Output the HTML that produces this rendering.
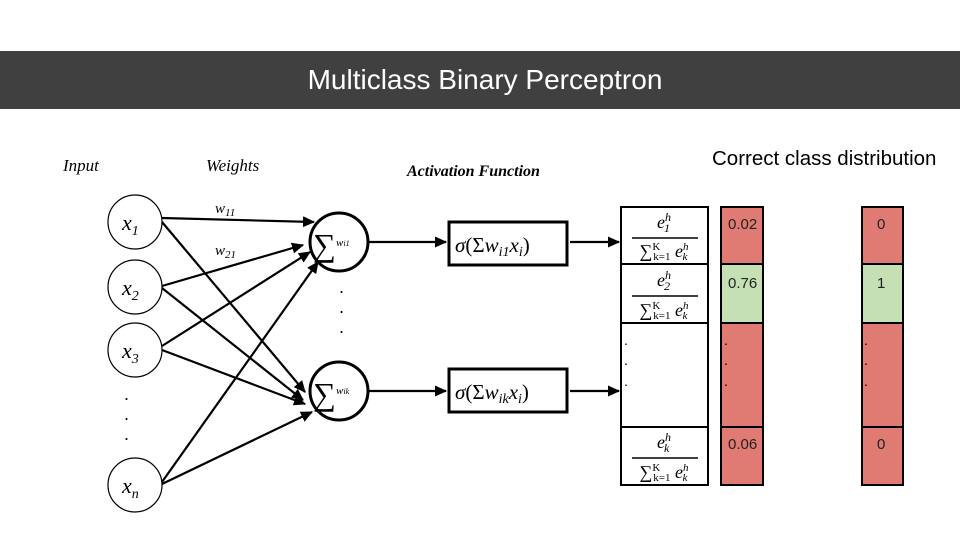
<!DOCTYPE html>
<html><head><meta charset="utf-8"><style>
body{margin:0;width:960px;height:540px;background:#fff;overflow:hidden;position:relative;font-family:"Liberation Sans",sans-serif}
.bar{position:absolute;left:0;top:51px;width:960px;height:58px;background:#404040;color:#fff;font-size:28px;line-height:58px;text-align:center;padding-left:10px;box-sizing:border-box}
svg{position:absolute;left:0;top:0}
.s{font-family:"Liberation Serif",serif;font-style:italic}
</style></head><body>
<div class="bar">Multiclass Binary Perceptron</div>
<svg width="960" height="540">
<defs><marker id="a" markerWidth="6" markerHeight="6" refX="5" refY="3" orient="auto"><path d="M0,0.5 L5.5,3 L0,5.5z" fill="#000"/></marker></defs>
<text x="63" y="171" class="s" font-size="17">Input</text>
<text x="206" y="171" class="s" font-size="17">Weights</text>
<text x="407" y="176" class="s" font-size="16" font-weight="bold">Activation Function</text>
<text x="712" y="165" font-size="20.5">Correct class distribution</text>
<g fill="#fff" stroke="#000" stroke-width="1.2">
<circle cx="135" cy="222" r="27"/><circle cx="135" cy="287" r="27"/><circle cx="135" cy="350" r="27"/><circle cx="135" cy="485" r="27"/>
</g>
<g class="s" font-size="22"><text x="122" y="230">x<tspan font-size="14" dy="5">1</tspan></text>
<text x="122" y="295">x<tspan font-size="14" dy="5">2</tspan></text>
<text x="122" y="358">x<tspan font-size="14" dy="5">3</tspan></text>
<text x="122" y="493">x<tspan font-size="14" dy="5">n</tspan></text></g>
<g font-size="18"><text x="124" y="400">.</text><text x="124" y="420">.</text><text x="124" y="440">.</text>
<text x="339" y="293">.</text><text x="339" y="313">.</text><text x="339" y="333">.</text></g>
<g stroke="#000" stroke-width="2.2" marker-end="url(#a)">
<line x1="162" y1="218" x2="314" y2="222"/>
<line x1="162" y1="222" x2="305" y2="392"/>
<line x1="162" y1="286" x2="303" y2="245"/>
<line x1="162" y1="288" x2="303" y2="400"/>
<line x1="162" y1="346" x2="310" y2="252"/>
<line x1="162" y1="350" x2="305" y2="404"/>
<line x1="162" y1="482" x2="318" y2="262"/>
<line x1="162" y1="484" x2="312" y2="412"/>
<line x1="369" y1="242" x2="446" y2="242"/>
<line x1="369" y1="391" x2="446" y2="391"/>
<line x1="570" y1="242" x2="619" y2="242"/>
<line x1="570" y1="391" x2="619" y2="391"/>
</g>
<text x="215" y="213" class="s" font-size="15">w<tspan font-size="11" dy="3">11</tspan></text>
<text x="215" y="255" class="s" font-size="15">w<tspan font-size="11" dy="3">21</tspan></text>
<g fill="#fff" stroke="#000" stroke-width="3"><circle cx="339" cy="242" r="29"/><circle cx="339" cy="391" r="29"/>
<rect x="449" y="222" width="118" height="43"/><rect x="449" y="369" width="118" height="43"/></g>
<g font-family="Liberation Serif,serif"><text x="313" y="256" font-size="32">∑</text><text x="313" y="405" font-size="32">∑</text>
<text x="336" y="246" class="s" font-size="11">w<tspan font-size="8">i1</tspan></text>
<text x="336" y="394" class="s" font-size="11">w<tspan font-size="8">ik</tspan></text>
<text x="455" y="252" font-size="21"><tspan class="s">σ</tspan>(Σ<tspan class="s">w<tspan font-size="14" dy="4">i1</tspan><tspan dy="-4">x</tspan><tspan font-size="14" dy="4">i</tspan></tspan><tspan dy="-4">)</tspan></text>
<text x="455" y="399" font-size="21"><tspan class="s">σ</tspan>(Σ<tspan class="s">w<tspan font-size="14" dy="4">ik</tspan><tspan dy="-4">x</tspan><tspan font-size="14" dy="4">i</tspan></tspan><tspan dy="-4">)</tspan></text></g>
<g stroke="#000" stroke-width="2"><rect x="621" y="207" width="87" height="278" fill="#fff"/>
<line x1="621" y1="264" x2="708" y2="264"/><line x1="621" y1="323" x2="708" y2="323"/><line x1="621" y1="427" x2="708" y2="427"/>
<rect x="721" y="207" width="42" height="278" fill="#e07b73"/><rect x="721" y="264" width="42" height="59" fill="#c5e0b4"/>
<line x1="721" y1="323" x2="763" y2="323"/><line x1="721" y1="427" x2="763" y2="427"/>
<rect x="862" y="207" width="41" height="278" fill="#e07b73"/><rect x="862" y="264" width="41" height="59" fill="#c5e0b4"/>
<line x1="862" y1="323" x2="903" y2="323"/><line x1="862" y1="427" x2="903" y2="427"/></g>
<g font-family="Liberation Serif,serif" text-anchor="middle">
<text x="664" y="228" font-size="18" class="s">e<tspan font-size="12" dy="-7">h</tspan><tspan font-size="12" dx="-7" dy="11">1</tspan></text>
<line x1="632" y1="238" x2="698" y2="238" stroke="#000" stroke-width="1.5"/>
<text x="664" y="257" font-size="18">∑<tspan font-size="11" dy="-7">K</tspan><tspan font-size="11" dx="-7" dy="10">k=1</tspan><tspan class="s" dy="-3"> e</tspan><tspan font-size="11" class="s" dy="-7">h</tspan><tspan font-size="11" class="s" dx="-6" dy="10">k</tspan></text>
<text x="664" y="286" font-size="18" class="s">e<tspan font-size="12" dy="-7">h</tspan><tspan font-size="12" dx="-7" dy="11">2</tspan></text>
<line x1="632" y1="296" x2="698" y2="296" stroke="#000" stroke-width="1.5"/>
<text x="664" y="316" font-size="18">∑<tspan font-size="11" dy="-7">K</tspan><tspan font-size="11" dx="-7" dy="10">k=1</tspan><tspan class="s" dy="-3"> e</tspan><tspan font-size="11" class="s" dy="-7">h</tspan><tspan font-size="11" class="s" dx="-6" dy="10">k</tspan></text>
<text x="664" y="448" font-size="18" class="s">e<tspan font-size="12" dy="-7">h</tspan><tspan font-size="12" dx="-7" dy="11">k</tspan></text>
<line x1="632" y1="458" x2="698" y2="458" stroke="#000" stroke-width="1.5"/>
<text x="664" y="478" font-size="18">∑<tspan font-size="11" dy="-7">K</tspan><tspan font-size="11" dx="-7" dy="10">k=1</tspan><tspan class="s" dy="-3"> e</tspan><tspan font-size="11" class="s" dy="-7">h</tspan><tspan font-size="11" class="s" dx="-6" dy="10">k</tspan></text>
</g>
<g font-size="15" fill="#222"><text x="728" y="229">0.02</text><text x="728" y="288">0.76</text><text x="728" y="449">0.06</text>
<text x="877" y="229">0</text><text x="877" y="288">1</text><text x="877" y="449">0</text></g>
<g font-size="14"><text x="624" y="345">.</text><text x="624" y="365">.</text><text x="624" y="386">.</text>
<text x="724" y="345">.</text><text x="724" y="365">.</text><text x="724" y="386">.</text>
<text x="864" y="345">.</text><text x="864" y="365">.</text><text x="864" y="386">.</text></g>
</svg>
</body></html>
